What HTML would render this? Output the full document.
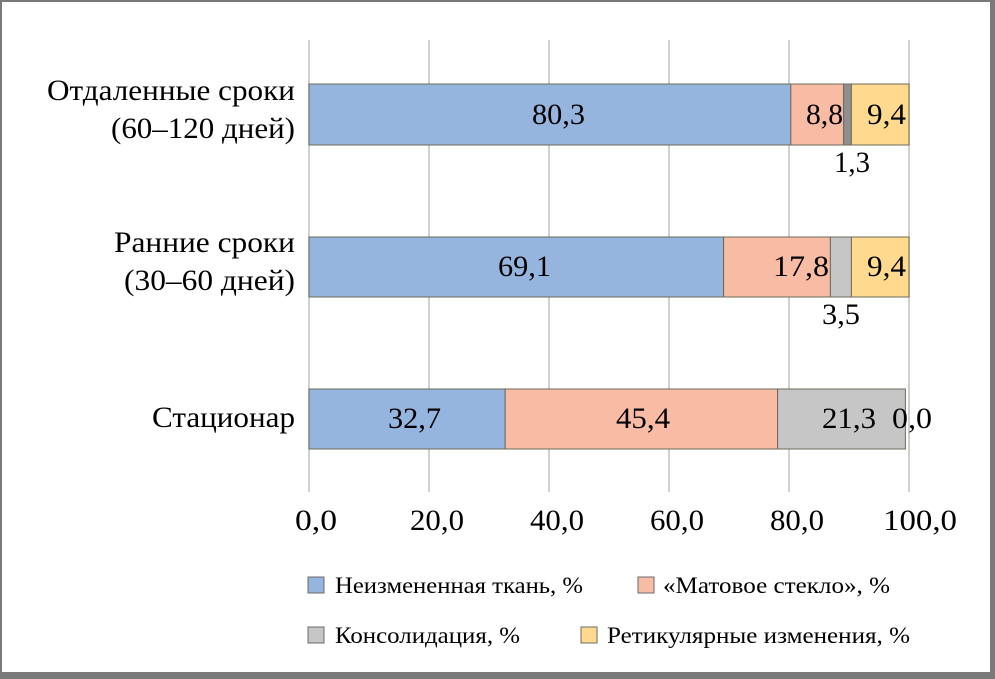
<!DOCTYPE html>
<html><head><meta charset="utf-8"><style>
body{margin:0;background:#fff}
svg{display:block}
text{font-family:"Liberation Serif",serif;fill:#000}
</style></head><body>
<svg width="995" height="679" viewBox="0 0 995 679">
<rect x="0" y="0" width="995" height="679" fill="#fff"/>
<rect x="1" y="1" width="990" height="672" fill="none" stroke="#7a7a7a" stroke-width="2"/>
<rect x="990" y="0" width="5" height="679" fill="#7a7a7a"/>
<rect x="0" y="673" width="995" height="6" fill="#7a7a7a"/>
<g stroke="#d0d0d0" stroke-width="2">
<line x1="309" y1="40" x2="309" y2="492"/>
<line x1="429" y1="40" x2="429" y2="492"/>
<line x1="549" y1="40" x2="549" y2="492"/>
<line x1="669" y1="40" x2="669" y2="492"/>
<line x1="789" y1="40" x2="789" y2="492"/>
<line x1="909" y1="40" x2="909" y2="492"/>
</g>
<g stroke="#6b6b5a" stroke-width="1">
<rect x="309" y="84" width="481.8" height="61" fill="#95b5de"/>
<rect x="790.8" y="84" width="52.8" height="61" fill="#f8bba4"/>
<rect x="843.6" y="84" width="7.8" height="61" fill="#8f8f8f"/>
<rect x="851.4" y="84" width="57.6" height="61" fill="#fed98e"/>
<rect x="309" y="237" width="414.6" height="60" fill="#95b5de"/>
<rect x="723.6" y="237" width="106.8" height="60" fill="#f8bba4"/>
<rect x="830.4" y="237" width="21" height="60" fill="#c6c6c6"/>
<rect x="851.4" y="237" width="57.6" height="60" fill="#fed98e"/>
<rect x="309" y="389" width="196.2" height="60" fill="#95b5de"/>
<rect x="505.2" y="389" width="272.4" height="60" fill="#f8bba4"/>
<rect x="777.6" y="389" width="127.8" height="60" fill="#c6c6c6"/>
</g>
<g font-size="30">
<text x="532" y="124" textLength="53" lengthAdjust="spacingAndGlyphs">80,3</text>
<text x="806" y="124" textLength="37" lengthAdjust="spacingAndGlyphs">8,8</text>
<text x="867" y="124" textLength="39" lengthAdjust="spacingAndGlyphs">9,4</text>
<text x="834" y="172" textLength="36" lengthAdjust="spacingAndGlyphs">1,3</text>
<text x="498" y="276" textLength="53" lengthAdjust="spacingAndGlyphs">69,1</text>
<text x="773" y="276" textLength="56" lengthAdjust="spacingAndGlyphs">17,8</text>
<text x="867" y="276" textLength="39" lengthAdjust="spacingAndGlyphs">9,4</text>
<text x="822" y="324" textLength="38" lengthAdjust="spacingAndGlyphs">3,5</text>
<text x="388" y="428" textLength="53" lengthAdjust="spacingAndGlyphs">32,7</text>
<text x="616" y="428" textLength="54" lengthAdjust="spacingAndGlyphs">45,4</text>
<text x="822" y="428" textLength="54" lengthAdjust="spacingAndGlyphs">21,3</text>
<text x="892" y="428" textLength="40" lengthAdjust="spacingAndGlyphs">0,0</text>

<text x="47" y="100" textLength="248" lengthAdjust="spacingAndGlyphs">Отдаленные сроки</text>
<text x="111" y="138" textLength="184" lengthAdjust="spacingAndGlyphs">(60–120 дней)</text>
<text x="114" y="252" textLength="181" lengthAdjust="spacingAndGlyphs">Ранние сроки</text>
<text x="124" y="290" textLength="171" lengthAdjust="spacingAndGlyphs">(30–60 дней)</text>
<text x="152" y="427" textLength="143" lengthAdjust="spacingAndGlyphs">Стационар</text>

<text x="295" y="530" textLength="42" lengthAdjust="spacingAndGlyphs">0,0</text>
<text x="410" y="530" textLength="54" lengthAdjust="spacingAndGlyphs">20,0</text>
<text x="530" y="530" textLength="54" lengthAdjust="spacingAndGlyphs">40,0</text>
<text x="650" y="530" textLength="54" lengthAdjust="spacingAndGlyphs">60,0</text>
<text x="770" y="530" textLength="54" lengthAdjust="spacingAndGlyphs">80,0</text>
<text x="883" y="530" textLength="74" lengthAdjust="spacingAndGlyphs">100,0</text>
</g>
<g stroke="#6b6b6b" stroke-width="1">
<rect x="308" y="577" width="16" height="16" fill="#95b5de"/>
<rect x="638" y="577" width="16" height="16" fill="#f8bba4"/>
<rect x="308" y="627" width="16" height="16" fill="#c6c6c6"/>
<rect x="581" y="627" width="16" height="16" fill="#fed98e"/>
</g>
<g font-size="23">
<text x="335" y="593" textLength="248" lengthAdjust="spacingAndGlyphs">Неизмененная ткань, %</text>
<text x="663" y="593" textLength="227" lengthAdjust="spacingAndGlyphs">«Матовое стекло», %</text>
<text x="335" y="643" textLength="185" lengthAdjust="spacingAndGlyphs">Консолидация, %</text>
<text x="607" y="643" textLength="303" lengthAdjust="spacingAndGlyphs">Ретикулярные изменения, %</text>
</g>
</svg>
</body></html>
